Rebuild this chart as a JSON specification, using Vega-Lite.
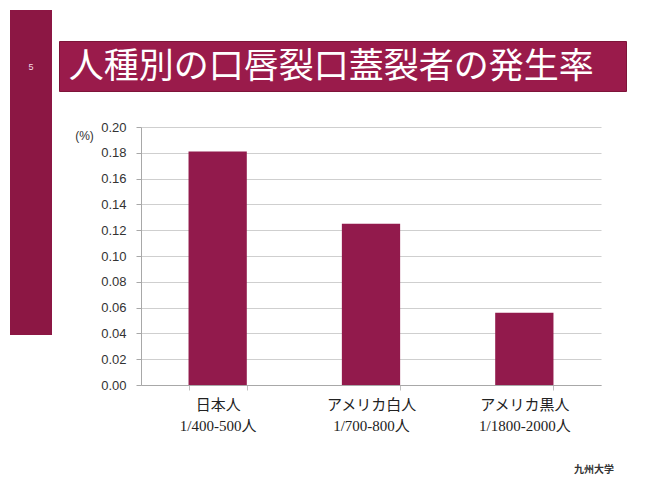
{
  "$schema": "https://vega.github.io/schema/vega-lite/v6.json",
  "background": "#ffffff",
  "padding": {"left": 10, "top": 10, "right": 0, "bottom": 0},
  "spacing": 6,
  "config": {"view": {"stroke": null}},
  "hconcat": [
    {
      "width": 42,
      "height": 325,
      "view": {"fill": "#8c1744", "stroke": null},
      "data": {"values": [{"page": "5", "px": 0.5, "py": 0.825}]},
      "mark": {"type": "text", "align": "center", "baseline": "middle", "color": "#f4dbe4", "fontSize": 9, "font": "Liberation Sans"},
      "encoding": {
        "x": {"field": "px", "type": "quantitative", "scale": {"domain": [0, 1]}, "axis": null},
        "y": {"field": "py", "type": "quantitative", "scale": {"domain": [0, 1]}, "axis": null},
        "text": {"field": "page"}
      }
    },
    {
      "spacing": 29,
      "vconcat": [
        {
          "width": 567,
          "height": 1,
          "data": {"values": []},
          "mark": "rule",
          "encoding": {}
        },
        {
          "width": 567,
          "height": 50,
          "view": {"fill": "#9a1b4b", "stroke": "#7e1439", "strokeWidth": 1},
          "data": {"values": [{"title": "人種別の口唇裂口蓋裂者の発生率", "px": 0.48, "py": 0.48}]},
          "mark": {"type": "text", "align": "center", "baseline": "middle", "color": "#ffffff", "fontSize": 35, "font": "Noto Sans CJK JP"},
          "encoding": {
            "x": {"field": "px", "type": "quantitative", "scale": {"domain": [0, 1]}, "axis": null},
            "y": {"field": "py", "type": "quantitative", "scale": {"domain": [0, 1]}, "axis": null},
            "text": {"field": "title"}
          }
        },
        {
          "spacing": 0,
          "hconcat": [
            {
              "width": 1,
              "height": 1,
              "data": {"values": []},
              "mark": "rule",
              "encoding": {}
            },
            {
              "width": 460,
              "height": 258,
              "title": {"text": "九州大学", "orient": "bottom", "anchor": "end", "fontSize": 10, "font": "Noto Sans CJK JP", "fontWeight": "bold", "color": "#333333", "offset": 32, "dx": 13},
              "data": {"values": [
                {"group": "日本人|1/400-500人", "rate": 0.181},
                {"group": "アメリカ白人|1/700-800人", "rate": 0.125},
                {"group": "アメリカ黒人|1/1800-2000人", "rate": 0.056}
              ]},
              "mark": {"type": "bar", "color": "#921a4c"},
              "encoding": {
                "x": {
                  "field": "group",
                  "type": "nominal",
                  "sort": null,
                  "scale": {"paddingInner": 0.62, "paddingOuter": 0.31},
                  "axis": {
                    "title": null,
                    "labelAngle": 0,
                    "labelExpr": "split(datum.label, '|')",
                    "labelFont": "Liberation Serif, Noto Sans CJK JP",
                    "labelFontSize": 15,
                    "labelLineHeight": 21,
                    "labelColor": "#222222",
                    "labelPadding": 7,
                    "labelLimit": 0,
                    "domainColor": "#a8a8a8",
                    "tickBand": "extent",
                    "tickColor": "#c0c0c0",
                    "tickSize": 5
                  }
                },
                "y": {
                  "field": "rate",
                  "type": "quantitative",
                  "scale": {"domain": [0, 0.2], "nice": false},
                  "axis": {
                    "values": [0, 0.02, 0.04, 0.06, 0.08, 0.1, 0.12, 0.14, 0.16, 0.18, 0.2],
                    "format": ".2f",
                    "title": "(%)",
                    "titleAngle": 0,
                    "titleX": -57,
                    "titleY": 8,
                    "titleAlign": "center",
                    "titleBaseline": "middle",
                    "titleFont": "Liberation Sans",
                    "titleFontSize": 12,
                    "titleFontWeight": "normal",
                    "titleColor": "#333333",
                    "labelFont": "Liberation Sans",
                    "labelFontSize": 13,
                    "labelColor": "#333333",
                    "labelPadding": 10,
                    "tickSize": 5,
                    "tickColor": "#a8a8a8",
                    "domainColor": "#a8a8a8",
                    "gridColor": "#cfcfcf",
                    "minExtent": 81,
                    "maxExtent": 81
                  }
                }
              }
            }
          ]
        }
      ]
    }
  ]
}
